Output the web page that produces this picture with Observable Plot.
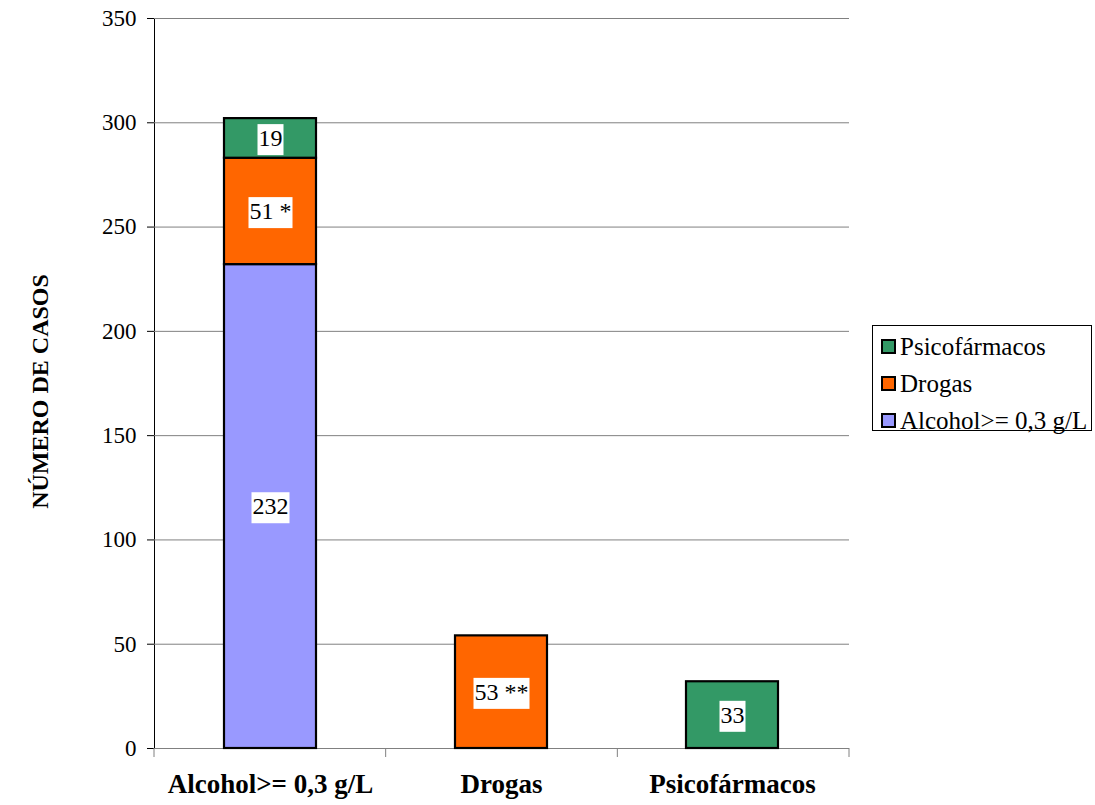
<!DOCTYPE html>
<html>
<head>
<meta charset="utf-8">
<script src="https://cdn.jsdelivr.net/npm/d3@7"></script>
<script src="https://cdn.jsdelivr.net/npm/@observablehq/plot@0.6"></script>
<style>
  body { margin: 0; background: #fff; font-family: "Liberation Serif", "Times New Roman", serif; }
  #wrap { position: relative; width: 1095px; height: 805px; }
  #legend { position: absolute; left: 872px; top: 325px; width: 220px; height: 106px;
            border: 1px solid #000; box-sizing: border-box; background: #fff; padding-top: 2px; }
  .row { display: flex; align-items: center; height: 37px; padding-left: 8px; font-size: 25px; color: #000; white-space: nowrap; }
  .sw { width: 15px; height: 15px; border: 2px solid #000; margin-right: 4px; box-sizing: border-box; flex: none; }
</style>
</head>
<body>
<div id="wrap">
  <div id="chart"></div>
  <div id="legend"></div>
</div>
<script>
// ---- data ----
const categories = ["Alcohol>= 0,3 g/L", "Drogas", "Psicofármacos"];
const series = ["Alcohol>= 0,3 g/L", "Drogas", "Psicofármacos"];
const legendOrder = ["Psicofármacos", "Drogas", "Alcohol>= 0,3 g/L"];
const barCategory = ["Alcohol>= 0,3 g/L", "Alcohol>= 0,3 g/L", "Alcohol>= 0,3 g/L", "Drogas", "Psicofármacos"];
const barSeries = ["Alcohol>= 0,3 g/L", "Drogas", "Psicofármacos", "Drogas", "Psicofármacos"];
const barValues = [232, 51, 19, 54, 32];
const barLabels = ["232", "51 *", "19", "53 **", "33"];
const yTicks = [0, 50, 100, 150, 200, 250, 300, 350];
const yTitle = "NÚMERO DE CASOS";

const data = barValues.map((v, i) => ({category: barCategory[i], series: barSeries[i], value: v, label: barLabels[i]}));
const colorRange = ["#9999FF", "#FF6600", "#339966"];

// custom mark: category boundary ticks on the x axis
function boundaryTicks(index, scales, values, dim) {
  const g = d3.create("svg:g").attr("aria-label", "x-boundary-ticks");
  const x0 = dim.marginLeft, x1 = dim.width - dim.marginRight;
  const yb = dim.height - dim.marginBottom;
  const n = categories.length;
  for (let i = 0; i <= n; i++) {
    const xx = x0 + (x1 - x0) * i / n;
    g.append("line").attr("x1", xx).attr("x2", xx).attr("y1", yb).attr("y2", yb + 9)
      .attr("stroke", "#808080").attr("stroke-width", 1);
  }
  return g.node();
}

const chart = Plot.plot({
  width: 1095,
  height: 805,
  marginLeft: 154,
  marginRight: 246,
  marginTop: 18,
  marginBottom: 57,
  style: {fontFamily: "'Liberation Serif', 'Times New Roman', serif", fontSize: "23px", background: "white", color: "#000"},
  x: {domain: categories, paddingInner: 0.6, paddingOuter: 0.3, axis: null},
  y: {domain: [0, 350], ticks: yTicks, tickSize: 7, tickPadding: 11, label: null, line: true, tickFormat: d => String(d)},
  color: {domain: series, range: colorRange},
  marks: [
    Plot.ruleY(yTicks.filter(d => d > 0), {stroke: "#808080", strokeWidth: 1}),
    Plot.ruleY([0], {stroke: "#808080", strokeWidth: 1}),
    boundaryTicks,
    Plot.barY(data, Plot.stackY({x: "category", y: "value", fill: "series", stroke: "#000", strokeWidth: 2.2})),
    Plot.text(data, Plot.stackY({x: "category", y: "value", text: "label", fill: "#000", fontSize: 24, ariaLabel: () => "bar-label"})),
    Plot.text(categories, {x: d => d, text: d => d, frameAnchor: "bottom", dy: 44, fontWeight: "bold", fontSize: 27, fill: "#000"}),
    Plot.text([yTitle], {text: d => d, frameAnchor: "left", textAnchor: "middle", dx: -114, dy: 8, rotate: -90, fontWeight: "bold", fontSize: 24, fill: "#000"})
  ]
});
document.getElementById("chart").appendChild(chart);

// white boxes behind bar labels
chart.querySelectorAll('text[aria-label="bar-label"]').forEach(t => {
  const b = t.getBBox();
  const r = document.createElementNS("http://www.w3.org/2000/svg", "rect");
  r.setAttribute("x", b.x - 1);
  r.setAttribute("y", b.y - 1);
  r.setAttribute("width", b.width + 2);
  r.setAttribute("height", b.height + 5);
  r.setAttribute("fill", "white");
  const tr = t.getAttribute("transform");
  if (tr) r.setAttribute("transform", tr);
  t.parentNode.insertBefore(r, t);
});

// legend
const leg = document.getElementById("legend");
const colorOf = s => colorRange[series.indexOf(s)];
legendOrder.forEach(s => {
  const row = document.createElement("div");
  row.className = "row";
  const sw = document.createElement("span");
  sw.className = "sw";
  sw.style.background = colorOf(s);
  const tx = document.createElement("span");
  tx.textContent = s;
  row.appendChild(sw);
  row.appendChild(tx);
  leg.appendChild(row);
});
</script>
</body>
</html>
